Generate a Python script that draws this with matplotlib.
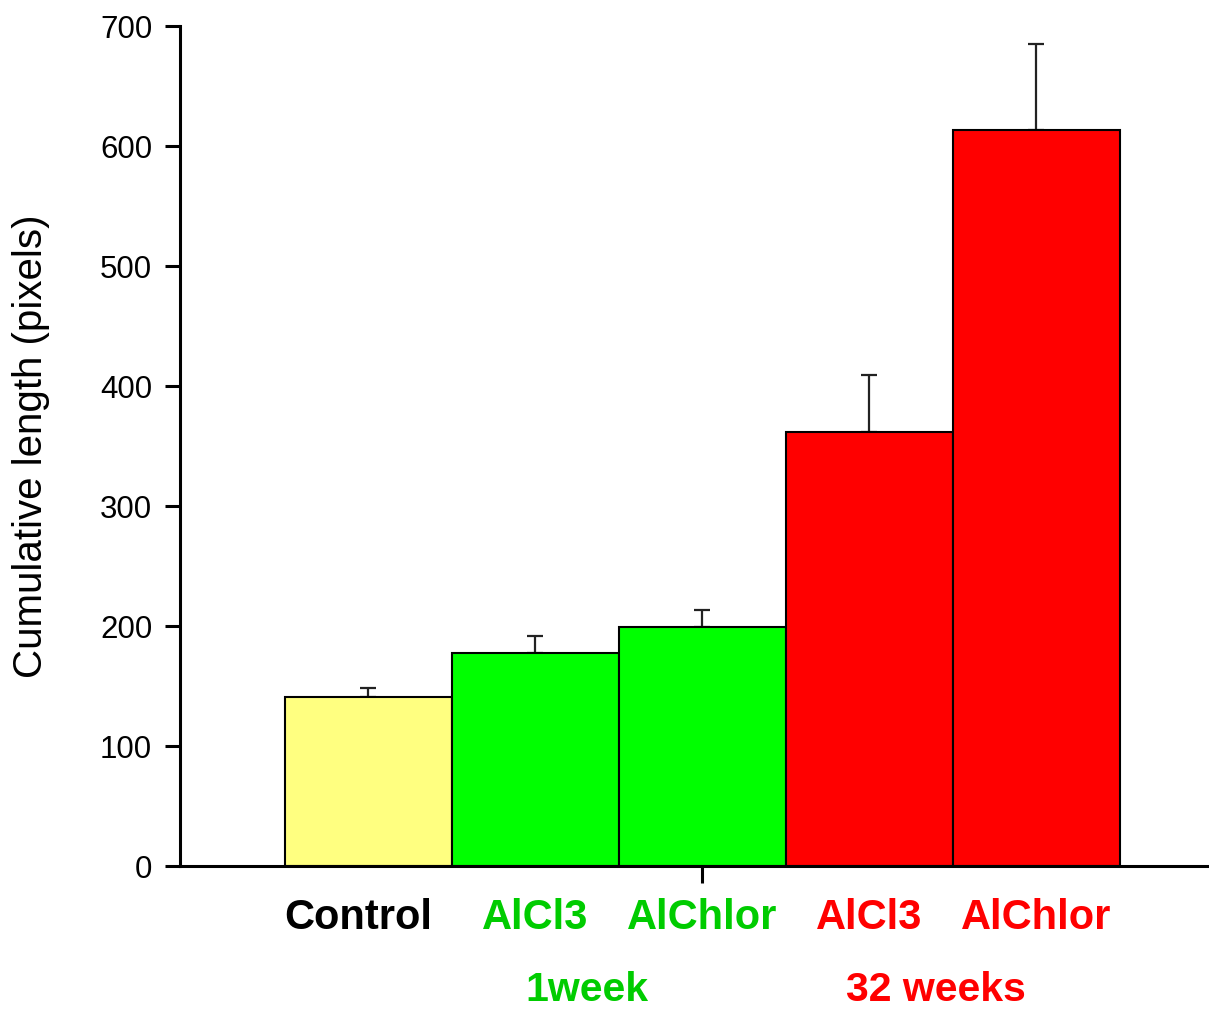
import matplotlib
matplotlib.use('Agg')
import matplotlib.pyplot as plt
import matplotlib.transforms as mtransforms
import numpy as np

plt.rcParams['font.family'] = ['Liberation Sans', 'DejaVu Sans']

# data
categories = ['Control', 'AlCl3', 'AlChlor', 'AlCl3', 'AlChlor']
means = [141, 177.5, 199, 362, 613]
errors = [7, 14.5, 14, 47, 72]
bar_colors = ['#FFFF80', '#00FF00', '#00FF00', '#FF0000', '#FF0000']
label_colors = ['black', '#00CC00', '#00CC00', '#FF0000', '#FF0000']
groups = ['1week', '32 weeks']
group_pos = [1.31, 3.40]
group_colors = ['#00CC00', '#FF0000']

fig = plt.figure(figsize=(12.09, 10.10), dpi=100)
ax = fig.add_axes([180/1209, 1 - 866/1010, 1030/1209, 840/1010])

x = np.arange(len(categories))
ax.bar(x, means, width=1.0, color=bar_colors, edgecolor='black', linewidth=1.5, zorder=2)
ax.errorbar(x, means, yerr=[np.zeros(len(errors)), errors], fmt='none',
            ecolor='#222222', elinewidth=1.6, capsize=6, capthick=1.6, zorder=1)

ax.set_xlim(-1.126, 5.04)
ax.set_ylim(0, 700)
ax.set_yticks(np.arange(0, 701, 100))
ax.set_xticks([2])
ax.set_xticklabels([''])

for s in ['top', 'right']:
    ax.spines[s].set_visible(False)
for s in ['left', 'bottom']:
    ax.spines[s].set_linewidth(2.2)
ax.tick_params(axis='y', length=11, width=2.2, labelsize=22.5, pad=9)
ax.tick_params(axis='x', length=12, width=2.2)

ax.set_ylabel('Cumulative length (pixels)', fontsize=29, labelpad=36)

trans = mtransforms.blended_transform_factory(ax.transData, ax.transAxes)
for xi, lab, c in zip(x, categories, label_colors):
    ax.text(xi - (0.06 if xi == 0 else 0), -0.0615, lab, transform=trans, ha='center', va='center',
            fontsize=30, fontweight='bold', color=c)
for gx, g, c in zip(group_pos, groups, group_colors):
    ax.text(gx, -0.148, g, transform=trans, ha='center', va='center',
            fontsize=29.5, fontweight='bold', color=c)

fig.savefig('out.png', dpi=100)
